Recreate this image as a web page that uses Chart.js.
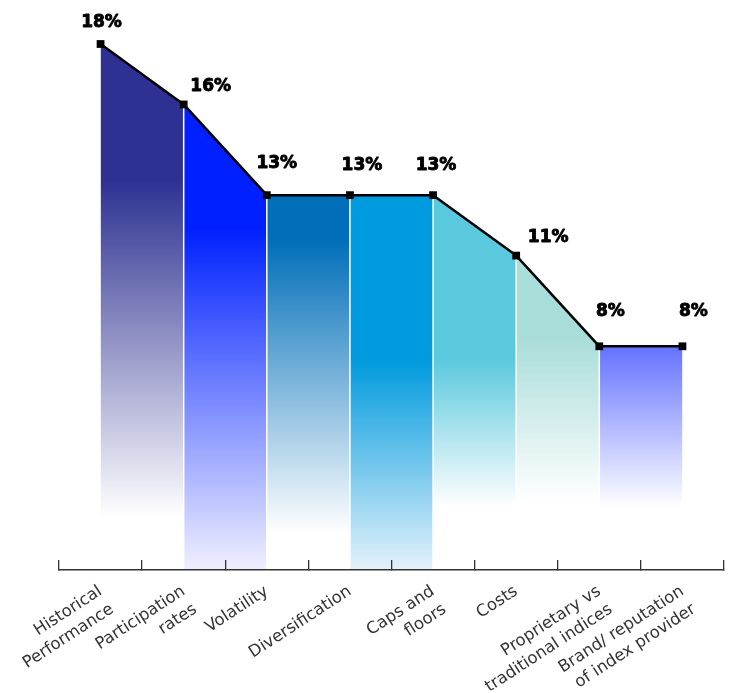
<!DOCTYPE html>
<html>
<head>
<meta charset="utf-8">
<script src="https://cdn.jsdelivr.net/npm/chart.js@4/dist/chart.umd.min.js"></script>
<style>
  html, body { margin: 0; padding: 0; background: #ffffff; }
  canvas { display: block; }
</style>
</head>
<body>
<canvas id="chart" width="733" height="693"></canvas>
<script>
// Factors, share of respondents (%)
const categories = [
  ['Historical', 'Performance'],
  ['Participation', 'rates'],
  'Volatility',
  'Diversification',
  ['Caps and', 'floors'],
  'Costs',
  ['Proprietary vs', 'traditional indices'],
  ['Brand/ reputation', 'of index provider']
];
const shares = [18, 16, 13, 13, 13, 11, 8, 8];
const valueLabels = ['18%', '16%', '13%', '13%', '13%', '11%', '8%', '8%'];

// Band fill between each pair of neighbouring points:
// solid colour down to `solid`, then fading to `fadeColor` at `fade`
// (both as fractions of the plot height).
const bandStyles = [
  { color: '#2e3192', solid: 0.26, fade: 0.90, fadeColor: '#ffffff' },
  { color: '#0020ff', solid: 0.35, fade: 1.00, fadeColor: '#f0f0ff' },
  { color: '#006eb9', solid: 0.37, fade: 0.93, fadeColor: '#ffffff' },
  { color: '#009ade', solid: 0.60, fade: 1.00, fadeColor: '#e4f2fb' },
  { color: '#5bc9dd', solid: 0.60, fade: 0.88, fadeColor: '#ffffff' },
  { color: '#a9ddd9', solid: 0.56, fade: 0.87, fadeColor: '#ffffff' },
  { color: '#6270ff', solid: 0.57, fade: 0.88, fadeColor: '#ffffff' }
];

// Label placement relative to each point (dx, dy in px)
const labelNudge = [[1, -21], [27, -18], [10, -32], [12, -30], [3, -30], [32, -18], [11, -35], [11, -35]];

const gradientCache = {};
function bandGradient(chart, index) {
  const area = chart.chartArea;
  if (!area) return bandStyles[index].color;
  const key = index + ':' + area.top + ':' + area.bottom;
  if (gradientCache[key]) return gradientCache[key];
  const s = bandStyles[index];
  const g = chart.ctx.createLinearGradient(0, area.top, 0, area.bottom);
  g.addColorStop(0, s.color);
  g.addColorStop(s.solid, s.color);
  g.addColorStop(s.fade, s.fadeColor);
  g.addColorStop(1, s.fadeColor);
  gradientCache[key] = g;
  return g;
}

// Thin white dividers between the bands, under the line
const bandDividers = {
  id: 'bandDividers',
  beforeDatasetDraw(chart) {
    const pts = chart.getDatasetMeta(0).data;
    const bottom = chart.chartArea.bottom;
    const c = chart.ctx;
    c.save();
    c.strokeStyle = '#ffffff';
    c.lineWidth = 1.5;
    c.beginPath();
    for (let i = 1; i < pts.length - 1; i++) {
      c.moveTo(pts[i].x, pts[i].y);
      c.lineTo(pts[i].x, bottom);
    }
    c.stroke();
    c.restore();
  }
};

// Percentage labels above the points (heavy weight)
const pointValueLabels = {
  id: 'pointValueLabels',
  afterDatasetsDraw(chart) {
    const pts = chart.getDatasetMeta(0).data;
    const c = chart.ctx;
    c.save();
    c.font = 'bold 17px "DejaVu Sans"';
    c.fillStyle = '#000000';
    c.strokeStyle = '#000000';
    c.lineWidth = 0.9;
    c.lineJoin = 'round';
    c.textAlign = 'center';
    c.textBaseline = 'middle';
    pts.forEach((pt, i) => {
      const [dx, dy] = labelNudge[i];
      c.fillText(valueLabels[i], pt.x + dx, pt.y + dy);
      c.strokeText(valueLabels[i], pt.x + dx, pt.y + dy);
    });
    c.restore();
  }
};

new Chart(document.getElementById('chart'), {
  type: 'line',
  data: {
    labels: categories,
    datasets: [{
      data: shares,
      borderColor: '#000000',
      borderWidth: 2.5,
      tension: 0,
      fill: 'start',
      backgroundColor: '#ffffff',
      pointStyle: 'rect',
      pointRadius: 5.5,
      pointBackgroundColor: '#000000',
      pointBorderWidth: 0,
      clip: false,
      segment: {
        backgroundColor: ctx => bandGradient(ctx.chart, ctx.p0DataIndex)
      }
    }]
  },
  options: {
    responsive: false,
    animation: false,
    devicePixelRatio: 1,
    layout: { padding: { top: 44, left: 59, right: 9, bottom: 0 } },
    plugins: {
      legend: { display: false },
      tooltip: { enabled: false }
    },
    scales: {
      x: {
        offset: true,
        grid: {
          z: 1,
          offset: true,
          drawOnChartArea: false,
          tickLength: -10,
          color: '#333333',
          lineWidth: 1.3
        },
        border: { z: 1, color: '#333333', width: 1.5 },
        ticks: {
          autoSkip: false,
          minRotation: 33,
          maxRotation: 33,
          padding: 21,
          color: '#333333',
          font: { family: 'DejaVu Sans', size: 16.5, lineHeight: 1.3 }
        },
        afterFit(scale) {
          scale.height = 123;
          scale.paddingLeft = 0;
          scale.paddingRight = 0;
        }
      },
      y: {
        display: false,
        min: 0.6,
        max: 18
      }
    }
  },
  plugins: [bandDividers, pointValueLabels]
});
</script>
</body>
</html>
